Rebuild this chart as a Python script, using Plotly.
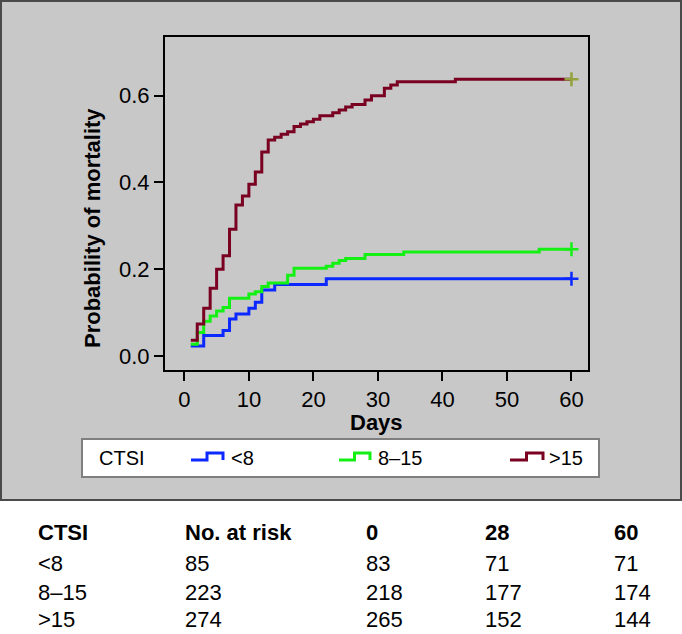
import plotly.graph_objects as go

#   Cumulative mortality (step curves)
groups = ["<8", "8–15", ">15"]

days_lt8 = [1, 3, 6, 7, 8, 10, 11, 12, 14, 22, 60]
prob_lt8 = [0.023, 0.047, 0.059, 0.085, 0.097, 0.110, 0.124, 0.152, 0.165, 0.178, 0.178]

days_mid = [1, 2, 3, 4, 5, 6, 7, 10, 11, 12, 13, 16, 17, 22, 23, 24, 25, 28, 34, 55, 60]
prob_mid = [0.027, 0.054, 0.080, 0.092, 0.104, 0.112, 0.133, 0.143, 0.148, 0.160, 0.168,
            0.186, 0.202, 0.207, 0.214, 0.220, 0.225, 0.234, 0.240, 0.246, 0.246]

days_gt15 = [1, 2, 3, 4, 5, 6, 7, 8, 9, 10, 11, 12, 13, 14, 15, 16, 17, 18, 19, 20, 21,
             23, 24, 25, 26, 28, 29, 31, 32, 33, 42, 60]
prob_gt15 = [0.036, 0.074, 0.110, 0.156, 0.200, 0.231, 0.292, 0.348, 0.369, 0.396, 0.424,
             0.470, 0.498, 0.504, 0.511, 0.517, 0.529, 0.535, 0.540, 0.546, 0.554,
             0.561, 0.567, 0.574, 0.580, 0.590, 0.600, 0.617, 0.625, 0.632, 0.638, 0.638]

#   Number at risk table
table_header = ["CTSI", "No. at risk", "0", "28", "60"]
n_total = [85, 223, 274]
at_day0 = [83, 218, 265]
at_day28 = [71, 177, 152]
at_day60 = [71, 174, 144]

x_ticks = [0, 10, 20, 30, 40, 50, 60]
y_ticks = [0.0, 0.2, 0.4, 0.6]

colors = ["#0a28ff", "#14f014", "#7a0022"]
end_colors = ["#0a28ff", "#14f014", "#93a23c"]

FONT = "Liberation Sans, Arial, sans-serif"

#   pixel layout of the page
W, H = 682, 634
L, R, T, B = 165, 588, 37, 370


def fx(px):
    return (px - L) / (R - L)


def fy(py):
    return (B - py) / (B - T)


fig = go.Figure()

series = [(days_lt8, prob_lt8), (days_mid, prob_mid), (days_gt15, prob_gt15)]
for i, (d, p) in enumerate(series):
    fig.add_trace(go.Scatter(x=d, y=p, mode="lines", line=dict(shape="hv", color=colors[i], width=3),
                             name=groups[i], showlegend=False))
    fig.add_trace(go.Scatter(x=[d[-1]], y=[p[-1]], mode="markers", showlegend=False,
                             marker=dict(symbol="cross-thin", size=10,
                                         line=dict(color=end_colors[i], width=2.5))))

shapes = []
#   gray panel behind the plot
shapes.append(dict(type="rect", xref="paper", yref="paper", layer="below",
                   x0=fx(1), x1=fx(681), y0=fy(500), y1=fy(1),
                   fillcolor="#c8c8c8", line=dict(color="#4a4a4a", width=2)))
#   legend box
shapes.append(dict(type="rect", xref="paper", yref="paper",
                   x0=fx(82), x1=fx(599), y0=fy(477), y1=fy(439),
                   fillcolor="white", line=dict(color="#7f7f7f", width=2)))

glyph_x = [(191, 223), (339, 370), (510, 543)]
text_x = [229, 376, 547]
yl, yh = 460, 453
for i, (a, b) in enumerate(glyph_x):
    m = (a + b) / 2
    path = (f"M {fx(a)},{fy(yl)} H {fx(m)} V {fy(yh)} H {fx(b)} V {fy(yl)}")
    shapes.append(dict(type="path", xref="paper", yref="paper", path=path,
                       line=dict(color=colors[i], width=3)))

annotations = []


def label(text, px, py, size=22, bold=False, anchor="left", angle=0):
    if bold:
        text = f"<b>{text}</b>"
    annotations.append(dict(text=text, x=fx(px), y=fy(py), xref="paper", yref="paper",
                            xanchor=anchor, yanchor="middle", showarrow=False, textangle=angle,
                            font=dict(family=FONT, size=size, color="black")))


label("Probability of mortality", 92, 228, size=22, bold=True, anchor="center", angle=-90)
label("Days", 376, 422, size=22, bold=True, anchor="center")

label("CTSI", 97, 458, size=20)
for i, g in enumerate(groups):
    label(g, text_x[i], 458, size=20)

col_x = [36, 183, 364, 483, 612]
row_y = [532, 563, 592, 619]
for j, h in enumerate(table_header):
    label(h, col_x[j], row_y[0], bold=True)
for i, g in enumerate(groups):
    row = [g, n_total[i], at_day0[i], at_day28[i], at_day60[i]]
    for j, v in enumerate(row):
        label(str(v), col_x[j], row_y[i + 1])

axis_common = dict(showline=True, linewidth=2, linecolor="black", mirror=True, showgrid=False,
                   zeroline=False, ticks="outside", ticklen=9, tickwidth=1.5, tickcolor="black",
                   tickfont=dict(family=FONT, size=22, color="black"))

fig.update_layout(
    width=W, height=H,
    margin=dict(l=L, r=W - R, t=T, b=H - B, pad=0),
    paper_bgcolor="white",
    plot_bgcolor="white",
    shapes=shapes,
    annotations=annotations,
    xaxis=dict(range=[-3.0, 62.56], tickvals=x_ticks, **axis_common),
    yaxis=dict(range=[-0.0323, 0.7354], tickvals=y_ticks, tickformat=".1f", **axis_common),
)

#   the page body has a default 8px margin; drop it so the figure fills the window
fig.write_html("out.html", config={"displayModeBar": False},
               post_script="document.body.style.margin='0px';")
